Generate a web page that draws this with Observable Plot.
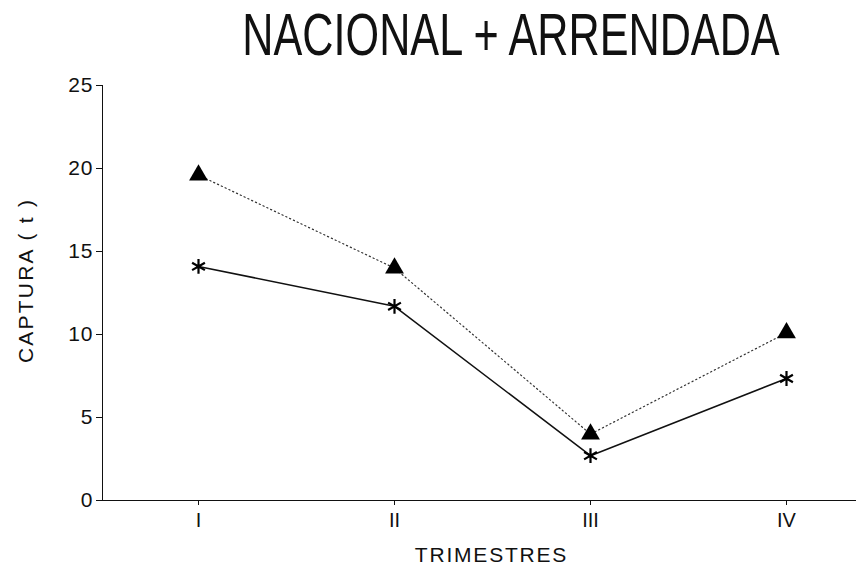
<!DOCTYPE html>
<html>
<head>
<meta charset="utf-8">
<script src="https://cdn.jsdelivr.net/npm/d3@7"></script>
<script src="https://cdn.jsdelivr.net/npm/@observablehq/plot@0.6"></script>
<style>
  html, body { margin: 0; padding: 0; background: #fff; }
  #title { height: 70px; width: 856px; position: relative; font-family: "Liberation Sans", Arial, sans-serif; }
  #title span { position: absolute; left: 511px; top: 5px; font-size: 60px; line-height: 60px; white-space: nowrap; transform: translateX(-50%) scaleX(0.72); color: #111; }
  svg { display: block; }
  .ylab text { letter-spacing: 2.2px; }
  .xlab text { letter-spacing: 1.8px; }
  .yax text { letter-spacing: 1px; }
</style>
</head>
<body>
<div id="title"><span>NACIONAL + ARRENDADA</span></div>
<div id="chart"></div>
<script>
const trimestres = ["I", "II", "III", "IV"];
const serieTriangulos = [19.6, 14.0, 4.0, 10.1];
const serieAsteriscos = [14.1, 11.7, 2.7, 7.35];
const yTicks = [0, 5, 10, 15, 20, 25];
const yLabel = "CAPTURA ( t )";
const xLabel = "TRIMESTRES";

const dataT = trimestres.map((t, i) => ({trimestre: t, captura: serieTriangulos[i]}));
const dataA = trimestres.map((t, i) => ({trimestre: t, captura: serieAsteriscos[i]}));

const chart = Plot.plot({
  width: 856,
  height: 499,
  marginLeft: 102,
  marginRight: 0,
  marginTop: 15,
  marginBottom: 69,
  style: {fontFamily: "'Liberation Sans', Arial, sans-serif", color: "#111", background: "#fff"},
  x: {type: "point", domain: trimestres, range: [197, 786], padding: 0, label: null},
  y: {domain: [0, 25], label: null},
  marks: [
    Plot.frame({anchor: "left", stroke: "#111"}),
    Plot.frame({anchor: "bottom", stroke: "#111"}),
    Plot.axisY({ticks: yTicks, tickSize: 6, tickPadding: 3, fontSize: 21, label: null, className: "yax"}),
    Plot.axisX({tickSize: 5, tickPadding: 7, fontSize: 20, label: null}),
    Plot.text([yLabel], {frameAnchor: "left", rotate: -90, dx: -76, dy: 70, fontSize: 21, className: "ylab"}),
    Plot.text([xLabel], {frameAnchor: "bottom", dx: 12, dy: 61, fontSize: 21, className: "xlab"}),
    Plot.line(dataT, {x: "trimestre", y: "captura", stroke: "#333", strokeWidth: 1.2, strokeDasharray: "1.2,3"}),
    Plot.line(dataA, {x: "trimestre", y: "captura", stroke: "#111", strokeWidth: 1.5}),
    Plot.dot(dataT, {x: "trimestre", y: "captura", symbol: "triangle", fill: "#000", r: 7}),
    Plot.dot(dataA, {x: "trimestre", y: "captura", symbol: "asterisk", stroke: "#000", strokeWidth: 2.2, r: 7})
  ]
});
document.getElementById("chart").appendChild(chart);
</script>
</body>
</html>
